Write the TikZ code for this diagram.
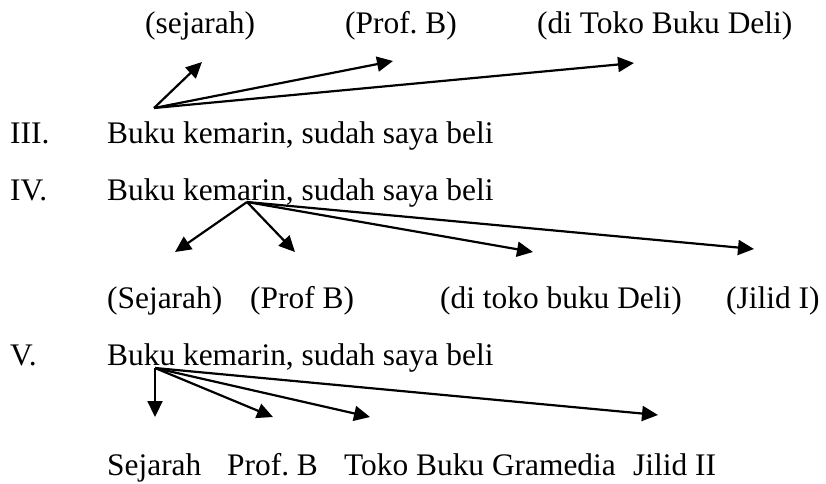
\documentclass[tikz,border=0pt]{standalone}
\usepackage{fontspec}
\setmainfont{Liberation Serif}
\usetikzlibrary{arrows.meta}
\frenchspacing
\tikzset{
  txt/.style={anchor=base west, inner sep=0pt, font=\fontsize{31.4}{36}\selectfont},
  arr/.style={line width=2.2pt, -{Triangle[length=16pt,width=15pt]}}
}
\begin{document}
\begin{tikzpicture}[x=1pt,y=-1pt]
\useasboundingbox (0,0) rectangle (826,483);
% top labels (III)
\node[txt] (l3a) at (145,33) {(sejarah)};
\node[txt] (l3b) at (345,33) {(Prof. B)};
\node[txt] (l3c) at (537,33) {(di Toko Buku Deli)};
% III
\node[txt] (n3) at (10,143) {III.};
\node[txt] (s3) at (107,143) {Buku kemarin, sudah saya beli};
\coordinate (o3) at (154,108);
\coordinate (t3a) at (202,62);
\coordinate (t3b) at (393,61);
\coordinate (t3c) at (634,63);
\draw[arr] (o3) -- (t3a);
\draw[arr] (o3) -- (t3b);
\draw[arr] (o3) -- (t3c);
% IV
\node[txt] (n4) at (10,200) {IV.};
\node[txt] (s4) at (107,200) {Buku kemarin, sudah saya beli};
\coordinate (o4) at (247,202);
\coordinate (t4a) at (175,252);
\coordinate (t4b) at (295,252);
\coordinate (t4c) at (533,252);
\coordinate (t4d) at (754,249);
\draw[arr] (o4) -- (t4a);
\draw[arr] (o4) -- (t4b);
\draw[arr] (o4) -- (t4c);
\draw[arr] (o4) -- (t4d);
\node[txt] (l4a) at (107,308) {(Sejarah)};
\node[txt] (l4b) at (250,308) {(Prof B)};
\node[txt] (l4c) at (440,308) {(di toko buku Deli)};
\node[txt] (l4d) at (726,308) {(Jilid I)};
% V
\node[txt] (n5) at (10,365) {V.};
\node[txt] (s5) at (107,365) {Buku kemarin, sudah saya beli};
\coordinate (o5) at (155,368);
\coordinate (t5a) at (155,417);
\coordinate (t5b) at (273,417);
\coordinate (t5c) at (370,417);
\coordinate (t5d) at (658,415);
\draw[arr] (o5) -- (t5a);
\draw[arr] (o5) -- (t5b);
\draw[arr] (o5) -- (t5c);
\draw[arr] (o5) -- (t5d);
\node[txt] (l5a) at (107,475) {Sejarah};
\node[txt] (l5b) at (227,475) {Prof. B};
\node[txt] (l5c) at (344,475) {Toko Buku Gramedia};
\node[txt] (l5d) at (633,475) {Jilid II};
\end{tikzpicture}
\end{document}
